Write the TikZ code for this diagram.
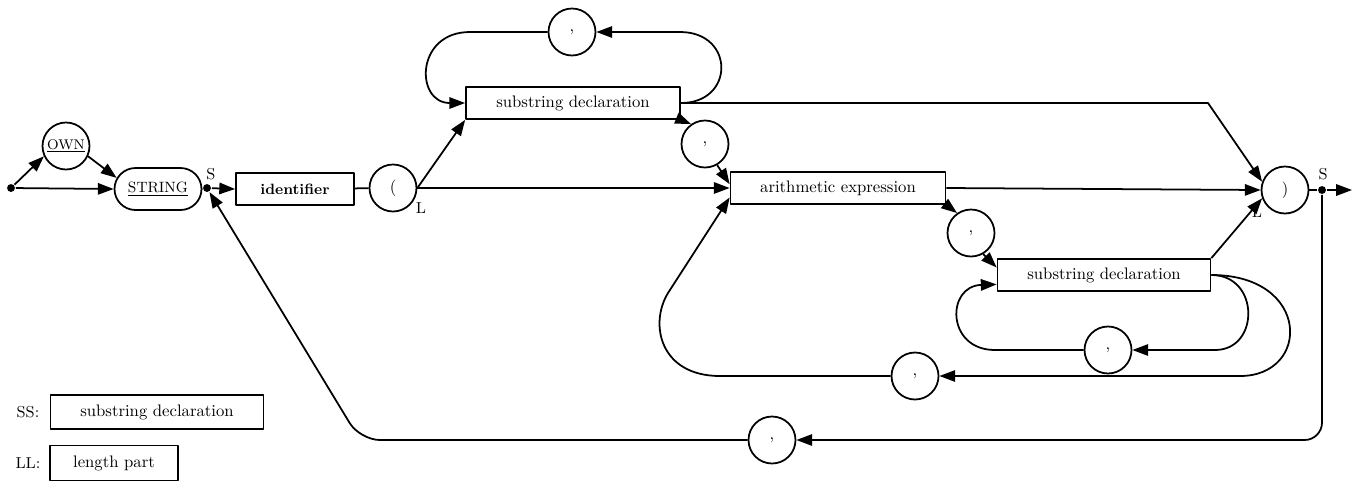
\documentclass[tikz,border=0pt]{standalone}
\usetikzlibrary{arrows.meta,shapes.misc}
\begin{document}
\begin{tikzpicture}[x=0.02cm, y=-0.02cm,
			circ/.style={circle, draw, minimum size=0.94cm, inner sep=0pt, font=\fontsize{9.5}{11}\selectfont},
			box/.style={rectangle, draw, minimum height=0.64cm, inner sep=0pt, font=\fontsize{9.5}{11}\selectfont},
			kw/.style={rounded rectangle, draw, minimum width=1.74cm, minimum height=0.84cm, inner sep=0pt, font=\fontsize{8.5}{10}\selectfont},
			dot/.style={circle, fill=black, inner sep=0pt, minimum size=4.5pt},
			lbl/.style={font=\fontsize{9}{10}\selectfont},
			arr/.style={-{Triangle[length=9pt,width=6.5pt]}},
			line width=1pt, line join=round
			]
			\useasboundingbox (0,0) rectangle (1358,481);
			% head
			\node[dot] (start) at (11,188) {};
			\node[circ, font=\fontsize{8}{9}\selectfont] (own) at (66,146) {\underline{OWN}};
			\node[kw] (string) at (158,189) {\underline{STRING}};
			\node[dot] (s1) at (207,188) {};
			\node[lbl] (s1l) at (211,174) {S};
			\node[box, minimum width=2.36cm, font=\fontsize{8.5}{10}\selectfont\bfseries] (ident) at (295,189) {identifier};
			\node[circ] (lpar) at (393,188) {(};
			\node[lbl] (lparl) at (421,208) {L};
			% upper branch
			\node[box, minimum width=4.28cm] (sub1) at (573,103) {substring declaration};
			\node[circ] (com1) at (572,32) {,};
			\node[circ] (com2) at (705,144) {,};
			% lower branch
			\node[box, minimum width=4.3cm] (arith) at (838,188) {arithmetic expression};
			\node[circ] (com3) at (971,233) {,};
			\node[box, minimum width=4.26cm] (sub2) at (1104,275) {substring declaration};
			\node[circ] (com4) at (1108,350) {,};
			\node[circ] (com5) at (915,376) {,};
			% tail
			\node[circ] (rpar) at (1285,190) {)};
			\node[lbl] (rparl) at (1257,212) {L};
			\node[dot] (s2) at (1322,190) {};
			\node[lbl] (s2l) at (1323,174) {S};
			\coordinate (exit) at (1352,190);
			\node[circ] (com6) at (772,440) {,};
			% legend
			\node[lbl] (ssl) at (28,412) {SS:};
			\node[box, minimum width=4.26cm, minimum height=0.68cm] (ss) at (157,412) {substring declaration};
			\node[lbl] (lll) at (28,463) {LL:};
			\node[box, minimum width=2.56cm, minimum height=0.7cm] (ll) at (114,463) {length part};
			% connectors
			\draw[arr] (start) -- (string.west);
			\draw[arr] (start) -- (own.205);
			\draw[arr] (own.335) -- (string.165);
			\draw (string.east) -- (s1);
			\draw[arr] (s1) -- (ident.west);
			\draw (ident) -- (lpar);
			\draw[arr] (lpar.east) -- (sub1.south west);
			\draw[arr] (lpar.east) -- (arith.west);
			\draw[arr] (com1.west) -- (470,32) .. controls (415,32) and (415,103) .. (sub1.west);
			\draw[arr] (sub1.east) .. controls (735,103) and (735,32) .. (680,32) -- (com1.east);
			\draw[arr] (sub1.east) -- (1208,103) -- (rpar.160);
			\draw[arr] (sub1.south east) -- (com2.125);
			\draw[arr] (com2.300) -- (arith.178);
			\draw[arr] (arith.east) -- (rpar.west);
			\draw[arr] (arith.south east) -- (com3.125);
			\draw[arr] (com3.300) -- (sub2.176);
			\draw[arr] (sub2.north east) -- (rpar.200);
			\draw[arr] (sub2.east) .. controls (1260,275) and (1260,350) .. (1215,350) -- (com4.east);
			\draw[arr] (com4.west) -- (995,350) .. controls (946,350) and (946,286) .. (sub2.185);
			\draw[arr] (sub2.east) .. controls (1311,275) and (1311,376) .. (1240,376) -- (com5.east);
			\draw[arr] (com5.west) -- (720,376) .. controls (660,376) and (649,324) .. (668,293) -- (arith.185);
			\draw (rpar) -- (s2);
			\draw[arr] (s2) -- (exit);
			\draw[arr, rounded corners=0.35cm] (s2) |- (com6.east);
			\draw[arr, rounded corners=0.4cm] (com6.west) -- (360,440) -- (s1);
		\end{tikzpicture}
\end{document}
